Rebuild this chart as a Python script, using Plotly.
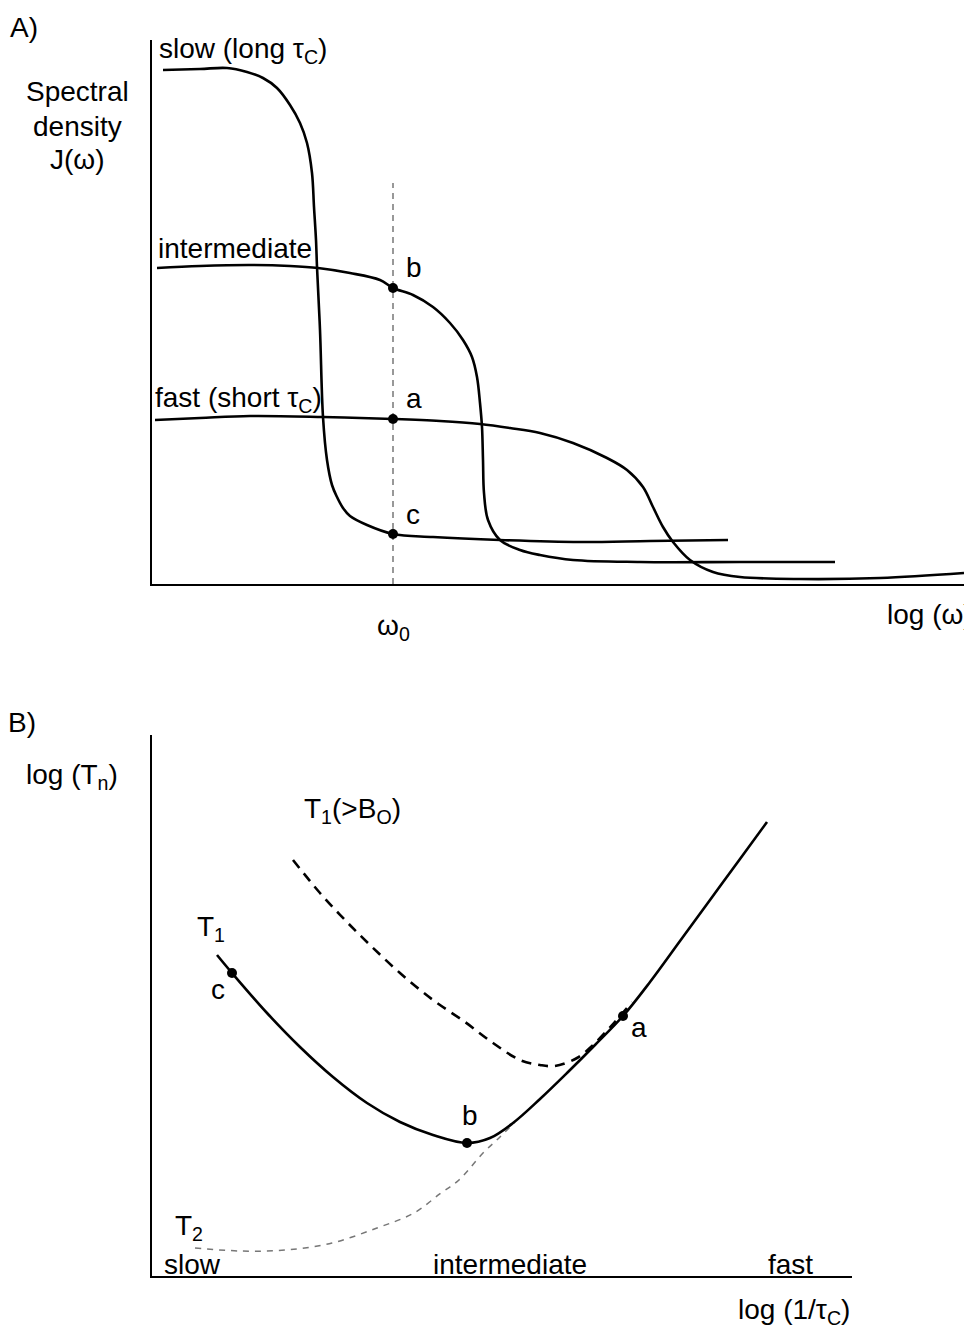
import plotly.graph_objects as go

W, H = 964, 1327

# ---------------- Panel A data (schematic units: log(omega) vs J(omega)) ----------------
slow_x = [11, 48, 75, 95, 111, 125, 138, 148, 155, 160, 162, 164, 165, 168, 171, 175, 180, 185, 191, 198, 215, 241, 281, 348, 428, 498, 576]
slow_y = [514, 515, 516, 512, 506, 496, 479, 461, 441, 411, 377, 344, 317, 254, 167, 124, 99, 87, 76, 68, 59, 50, 47, 44, 42, 43, 44]

inter_x = [5, 48, 98, 138, 166, 198, 228, 241, 261, 281, 298, 311, 320, 325, 328, 330, 331, 332, 336, 348, 368, 388, 421, 488, 588, 683]
inter_y = [316, 318, 319, 318, 316, 311, 304, 296, 289, 277, 261, 244, 227, 207, 181, 157, 124, 91, 64, 44, 34, 29, 24, 22, 22, 22]

fast_x = [3, 48, 98, 171, 241, 288, 328, 358, 388, 421, 455, 475, 491, 501, 511, 521, 538, 561, 588, 648, 728, 812]
fast_y = [164, 166, 168, 167, 165, 163, 160, 156, 151, 141, 126, 114, 97, 77, 57, 42, 24, 12, 7, 5, 6, 11]

omega0 = 241
omega0_line_top = 401
pointsA_labels = ["b", "a", "c"]
pointsA_y = [296, 165, 50]

# ---------------- Panel B data (schematic units: log(1/tau_c) vs log(T_n)) ----------------
t1_x = [65, 80, 115, 148, 181, 215, 248, 281, 315, 338, 361, 388, 415, 443, 471, 498, 528, 558, 588, 615]
t1_y = [321, 303, 263, 229, 199, 173, 154, 141, 133, 138, 153, 177, 203, 231, 260, 294, 335, 376, 417, 454]

t1hi_x = [141, 168, 193, 218, 248, 281, 313, 341, 368, 388, 403, 425, 441, 461, 480]
t1hi_y = [416, 383, 356, 331, 303, 276, 254, 233, 216, 211, 210, 218, 231, 252, 274]

t2_x = [43, 89, 134, 180, 225, 262, 289, 307, 331, 348, 363]
t2_y = [28, 25, 26, 33, 48, 63, 83, 96, 123, 139, 154]

pointsB_labels = ["c", "b", "a"]
pointsB_x = [80, 315, 471]
pointsB_y = [303, 133, 260]

FONT = "Liberation Sans, Arial, Helvetica, sans-serif"
FS = 28

def px(x):
    return x / W

def py(y):
    return 1 - y / H

fig = go.Figure()

line_style = dict(color="black", width=2.6, shape="spline", smoothing=1.0)

# Panel A curves
fig.add_trace(go.Scatter(x=slow_x, y=slow_y, mode="lines", line=line_style, xaxis="x", yaxis="y"))
fig.add_trace(go.Scatter(x=inter_x, y=inter_y, mode="lines", line=line_style, xaxis="x", yaxis="y"))
fig.add_trace(go.Scatter(x=fast_x, y=fast_y, mode="lines", line=line_style, xaxis="x", yaxis="y"))
fig.add_trace(go.Scatter(x=[omega0, omega0], y=[0, omega0_line_top], mode="lines",
                         line=dict(color="#777777", width=1.5, dash="6px,5px"), xaxis="x", yaxis="y"))
fig.add_trace(go.Scatter(x=[omega0] * 3, y=pointsA_y, mode="markers",
                         marker=dict(color="black", size=10), xaxis="x", yaxis="y"))

# Panel B curves
fig.add_trace(go.Scatter(x=t2_x, y=t2_y, mode="lines",
                         line=dict(color="#777777", width=1.5, dash="6px,6px", shape="spline", smoothing=1.0),
                         xaxis="x2", yaxis="y2"))
fig.add_trace(go.Scatter(x=t1hi_x, y=t1hi_y, mode="lines",
                         line=dict(color="black", width=2.6, dash="10px,7px", shape="spline", smoothing=1.0),
                         xaxis="x2", yaxis="y2"))
fig.add_trace(go.Scatter(x=t1_x, y=t1_y, mode="lines", line=line_style, xaxis="x2", yaxis="y2"))
fig.add_trace(go.Scatter(x=pointsB_x, y=pointsB_y, mode="markers",
                         marker=dict(color="black", size=10), xaxis="x2", yaxis="y2"))

axis_common = dict(showgrid=False, zeroline=False, showticklabels=False, ticks="",
                   showline=True, linecolor="black", linewidth=2)

fig.update_layout(
    width=W, height=H,
    margin=dict(l=0, r=0, t=0, b=0),
    paper_bgcolor="white", plot_bgcolor="white",
    showlegend=False,
    font=dict(family=FONT, size=FS, color="black"),
    xaxis=dict(domain=[px(152), 1.0], range=[0, 812], anchor="y", **axis_common),
    yaxis=dict(domain=[py(584), py(40)], range=[0, 544], anchor="x", **axis_common),
    xaxis2=dict(domain=[px(152), px(852)], range=[0, 700], anchor="y2", **axis_common),
    yaxis2=dict(domain=[py(1276), py(735)], range=[0, 541], anchor="x2", **axis_common),
)

ann = []

def add_paper(text, x, y, xanchor="left", align="left"):
    ann.append(dict(text=text, x=px(x), y=py(y), xref="paper", yref="paper",
                    xanchor=xanchor, yanchor="middle", showarrow=False, align=align,
                    font=dict(family=FONT, size=FS, color="black")))

def add_data(text, x, y, xr, yr, xanchor="left"):
    ann.append(dict(text=text, x=x, y=y, xref=xr, yref=yr,
                    xanchor=xanchor, yanchor="middle", showarrow=False,
                    font=dict(family=FONT, size=FS, color="black")))

# Panel A texts
add_paper("A)", 8, 28)
add_paper("Spectral", 77, 92, xanchor="center")
add_paper("density", 77, 126, xanchor="center")
add_paper("J(ω)", 77, 160, xanchor="center")
add_paper("slow (long τ<sub>C</sub>)", 157, 51)
add_paper("intermediate", 156, 249)
add_paper("fast (short τ<sub>C</sub>)", 153, 399)
for lab, yv in zip(pointsA_labels, pointsA_y):
    add_data(lab, omega0 + 11, yv + 20, "x", "y")
add_paper("ω<sub>0</sub>", 393, 627, xanchor="center")
add_paper("log (ω)", 885, 614)

# Panel B texts
add_paper("B)", 6, 722)
add_paper("log (T<sub>n</sub>)", 24, 777)
add_paper("T<sub>1</sub>(>B<sub>O</sub>)", 302, 810)
add_paper("T<sub>1</sub>", 195, 928)
add_data("c", pointsB_x[0] - 14, pointsB_y[0] - 17, "x2", "y2", xanchor="center")
add_data("b", pointsB_x[1] + 3, pointsB_y[1] + 28, "x2", "y2", xanchor="center")
add_data("a", pointsB_x[2] + 6, pointsB_y[2] - 11, "x2", "y2", xanchor="left")
add_paper("T<sub>2</sub>", 173, 1227)
add_paper("slow", 162, 1264)
add_paper("intermediate", 510, 1264, xanchor="center")
add_paper("fast", 790, 1264, xanchor="center")
add_paper("log (1/τ<sub>C</sub>)", 736, 1311)

fig.update_layout(annotations=ann)

fig.write_html("out.html")
